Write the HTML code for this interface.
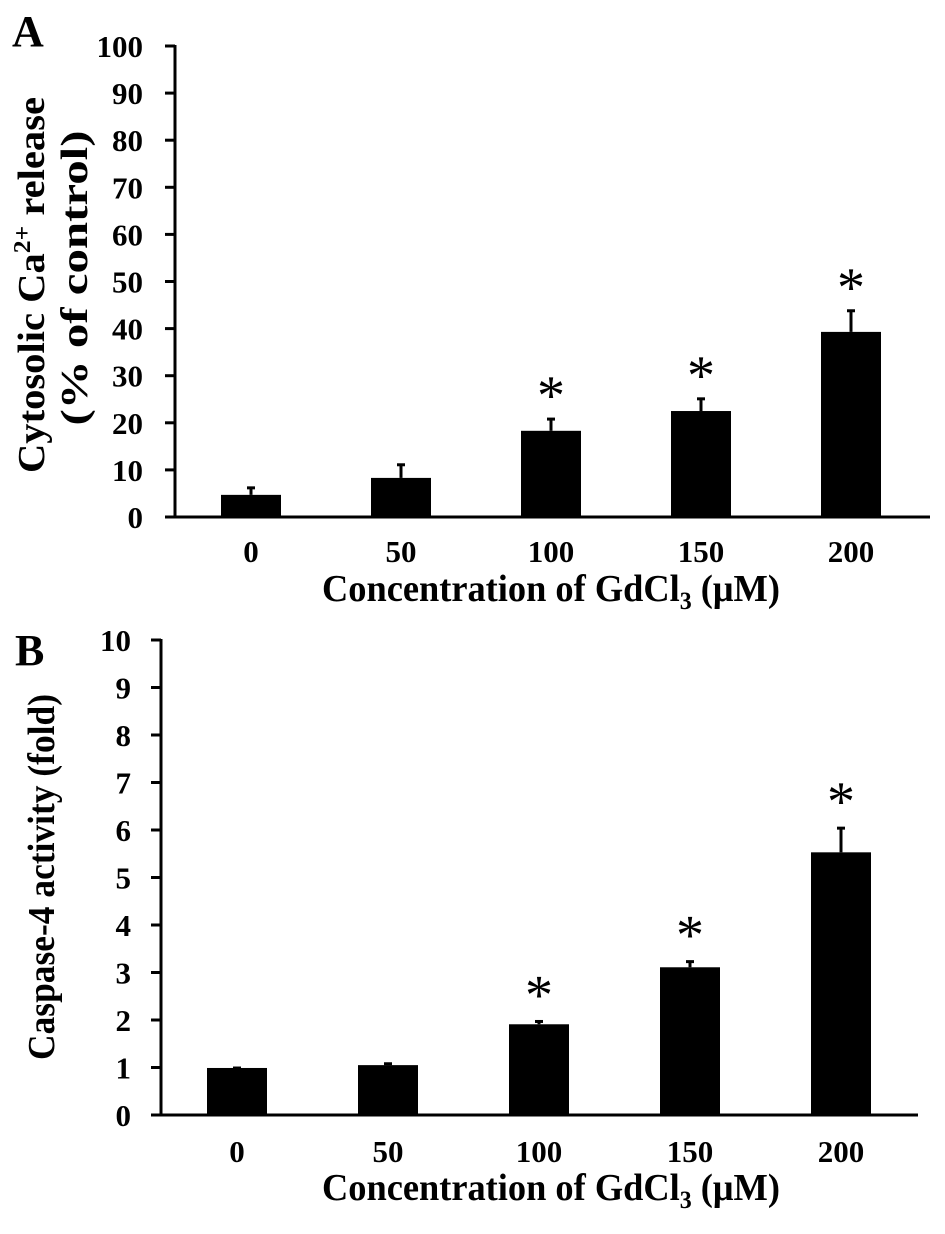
<!DOCTYPE html>
<html><head><meta charset="utf-8"><style>
html,body{margin:0;padding:0;background:#fff;}
svg{display:block;font-family:"Liberation Serif",serif;font-weight:bold;}
</style></head><body>
<svg id="fig" width="945" height="1234" viewBox="0 0 945 1234" xmlns="http://www.w3.org/2000/svg">
<text x="12" y="46" font-size="44">A</text>
<text x="15" y="665" font-size="44">B</text>
<text transform="translate(44,285) rotate(-90)" text-anchor="middle" font-size="38" textLength="376" lengthAdjust="spacingAndGlyphs">Cytosolic Ca<tspan font-size="24" dy="-14">2+</tspan><tspan dy="14"> release</tspan></text>
<text transform="translate(87,278) rotate(-90)" text-anchor="middle" font-size="38" textLength="295" lengthAdjust="spacingAndGlyphs">(% of control)</text>
<text x="551" y="601" text-anchor="middle" font-size="38" textLength="458" lengthAdjust="spacingAndGlyphs">Concentration of GdCl<tspan font-size="25" dy="8">3</tspan><tspan dy="-8"> (μM)</tspan></text>
<text transform="translate(54,877) rotate(-90)" text-anchor="middle" font-size="38" textLength="366" lengthAdjust="spacingAndGlyphs">Caspase-4 activity (fold)</text>
<text x="551" y="1200" text-anchor="middle" font-size="38" textLength="458" lengthAdjust="spacingAndGlyphs">Concentration of GdCl<tspan font-size="25" dy="8">3</tspan><tspan dy="-8"> (μM)</tspan></text>
<g id="chartA"></g>
<g id="chartB"></g>
</svg>
<script>
const categories = ["0","50","100","150","200"];
const valuesA = [4.7, 8.3, 18.3, 22.5, 39.3];
const errorsA = [1.7, 3.0, 2.7, 2.8, 4.7];
const sigA = [false, false, true, true, true];
const ticksA = [0,10,20,30,40,50,60,70,80,90,100];
const valuesB = [0.99, 1.05, 1.91, 3.11, 5.53];
const errorsB = [0.02, 0.05, 0.08, 0.14, 0.53];
const sigB = [false, false, true, true, true];
const ticksB = [0,1,2,3,4,5,6,7,8,9,10];
const NS = "http://www.w3.org/2000/svg";
function mk(parent, tag, attrs){const e=document.createElementNS(NS,tag);for(const k in attrs)e.setAttribute(k,attrs[k]);parent.appendChild(e);return e;}
function draw(cfg){
  const g=document.getElementById(cfg.id);
  const yS=v=>cfg.y0-(v-cfg.min)/(cfg.max-cfg.min)*(cfg.y0-cfg.yTop);
  const xS=i=>cfg.x0c+i*cfg.step;
  const ax=mk(g,"line",{x1:cfg.ax,y1:yS(cfg.max)-1,x2:cfg.ax,y2:cfg.y0+1.5,stroke:"#000","stroke-width":3});
  
  
  const xa=mk(g,"line",{x1:cfg.ax-10,y1:cfg.y0,x2:cfg.xEnd,y2:cfg.y0,stroke:"#000","stroke-width":3});
  
  
  cfg.ticks.forEach(t=>{
    const tl=mk(g,"line",{x1:cfg.ax-10,y1:yS(t),x2:cfg.ax,y2:yS(t),stroke:"#000","stroke-width":3});
    
    
    const tx=mk(g,"text",{x:cfg.labX,y:yS(t)+11,"text-anchor":"end","font-size":31});
    tx.textContent=t;
    
    
  });
  cfg.vals.forEach((v,i)=>{
    const cx=xS(i), top=yS(v), et=yS(v+cfg.errs[i]);
    const b=mk(g,"rect",{x:cx-30,y:top,width:60,height:cfg.y0-top,fill:"#000"});
    
    
    const el=mk(g,"line",{x1:cx,y1:top,x2:cx,y2:et,stroke:"#000","stroke-width":3});
    
    
    const cap=mk(g,"line",{x1:cx-4,y1:et+1,x2:cx+4,y2:et+1,stroke:"#000","stroke-width":3});
    
    
    const xl=mk(g,"text",{x:cx,y:cfg.xLabY,"text-anchor":"middle","font-size":31});
    xl.textContent=categories[i];
    
    
    if(cfg.sig[i]){
      const s=mk(g,"text",{x:cx,y:et-cfg.starGap,"text-anchor":"middle","font-size":56,"font-weight":"normal"});
      s.textContent="*";
      
      
    }
  });
}
draw({id:"chartA",vals:valuesA,errs:errorsA,sig:sigA,ticks:ticksA,min:0,max:100,y0:517,yTop:46,ax:175,x0c:251,step:150,xEnd:930,labX:143,xLabY:562,starGap:4});
draw({id:"chartB",vals:valuesB,errs:errorsB,sig:sigB,ticks:ticksB,min:0,max:10,y0:1115,yTop:640,ax:161,x0c:237,step:151,xEnd:918,labX:131,xLabY:1162,starGap:7});
</script>
</body></html>
